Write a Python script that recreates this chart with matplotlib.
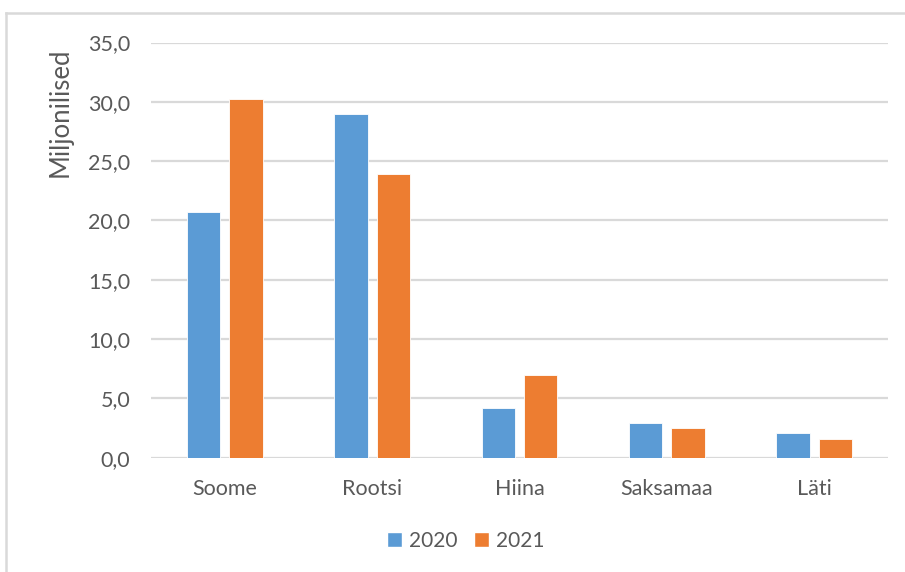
import matplotlib
matplotlib.use("Agg")
import matplotlib.pyplot as plt
from matplotlib.patches import Patch
from matplotlib.lines import Line2D
import numpy as np

categories = ["Soome", "Rootsi", "Hiina", "Saksamaa", "Läti"]
series_names = ["2020", "2021"]
values_2020 = [20.7, 29.0, 4.2, 2.9, 2.1]
values_2021 = [30.2, 23.9, 7.0, 2.5, 1.6]
yticks = [0, 5, 10, 15, 20, 25, 30, 35]
ytick_labels = ["0,0", "5,0", "10,0", "15,0", "20,0", "25,0", "30,0", "35,0"]
ylabel = "Miljonilised"

blue = "#5B9BD5"
orange = "#ED7D31"
text_color = "#595959"
grid_color = "#D9D9D9"

plt.rcParams['font.family'] = ['Lato', 'DejaVu Sans']

fig = plt.figure(figsize=(9.05, 5.72), dpi=100)
ax = fig.add_axes([151/905, 1 - 457.6/572, (888-151)/905, (457.6-42.5)/572])

x = np.arange(len(categories))
w = 0.226
off = 0.1436
ax.bar(x - off, values_2020, width=w, color=blue, edgecolor="white", linewidth=0.6, zorder=3)
ax.bar(x + off, values_2021, width=w, color=orange, edgecolor="white", linewidth=0.6, zorder=3)

ax.set_xlim(-0.5, len(categories) - 0.5)
ax.set_ylim(0, 35)
ax.set_yticks(yticks)
ax.set_yticklabels(ytick_labels)
ax.set_xticks(x)
ax.set_xticklabels(categories)
ax.tick_params(axis='both', length=0, colors=text_color, labelsize=15.5)
ax.tick_params(axis='y', pad=15)
ax.tick_params(axis='x', pad=15.5)
ax.yaxis.grid(True, color=grid_color, linewidth=1.6, zorder=0)
ax.set_axisbelow(True)
for s in ax.spines.values():
    s.set_visible(False)

fig.text(60/905, 1 - 112/572, ylabel, rotation=90, ha='center', va='center',
         fontsize=18.5, color=text_color)

handles = [Patch(facecolor=blue, edgecolor='white'), Patch(facecolor=orange, edgecolor='white')]
fig.legend(handles, series_names, loc='center', bbox_to_anchor=(466/905, 1 - 541/572),
           ncol=2, frameon=False, fontsize=15, labelcolor=text_color,
           handlelength=0.7, handleheight=0.7, handletextpad=0.35, columnspacing=0.8)

# chart frame (top and left edges visible)
fig.add_artist(Line2D([6/905, 1], [1 - 13/572, 1 - 13/572], transform=fig.transFigure,
                      color=grid_color, linewidth=1.8))
fig.add_artist(Line2D([6/905, 6/905], [0, 1 - 13/572], transform=fig.transFigure,
                      color=grid_color, linewidth=1.8))

fig.savefig("out.png", dpi=100)
